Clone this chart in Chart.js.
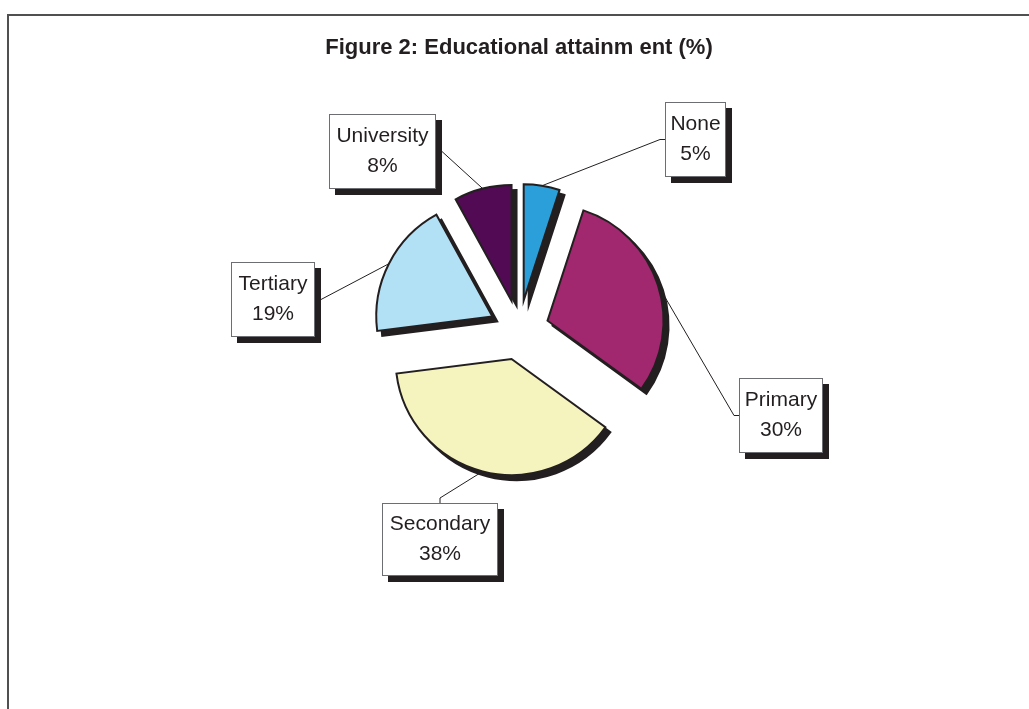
<!doctype html>
<html lang="en">
	<head>
		<title>Educational attainment</title>
		<script src="https://cdn.jsdelivr.net/npm/chart.js@4/dist/chart.umd.min.js"></script>
		<style>
			body { margin: 0; overflow: hidden; background: #fff; }
			#frame { position: absolute; left: 7px; top: 14px; width: 1100px; height: 800px;
				border-left: 2px solid #505050; border-top: 2px solid #505050; }
			#chart { position: absolute; left: 0; top: 0; }
		</style>
	</head>
	<body>
		<div id="frame"></div>
		<canvas id="chart" width="1029" height="709"></canvas>
	</body>
	<script>
		// shares of the population by highest level reached
		const categories = ['None', 'Primary', 'Secondary', 'Tertiary', 'University'];
		const shares = [5, 30, 38, 19, 8];
		const sliceColors = ['#2a9fd9', '#a1276f', '#f6f4be', '#b2e1f5', '#520a55'];

		// callout boxes: top-left corner, size, and which side the leader line joins
		const labelBoxes = [
			{ x: 665, y: 102, w: 61, h: 75, side: 'left' },
			{ x: 739, y: 378, w: 84, h: 75, side: 'left' },
			{ x: 382, y: 503, w: 116, h: 73, side: 'top' },
			{ x: 231, y: 262, w: 84, h: 75, side: 'right' },
			{ x: 329, y: 114, w: 107, h: 75, side: 'right' }
		];

		const ink = '#231f20';
		const explode = 30;
		const sliceShadow = { dx: 5, dy: 5 };
		const boxShadow = 6;

		// pull every slice out from the centre by the same distance, and lay a solid shadow under it
		const explodePlugin = {
			id: 'explode',
			afterDatasetUpdate(chart, args) {
				args.meta.data.forEach(arc => {
					const mid = (arc.startAngle + arc.endAngle) / 2;
					arc.x += Math.cos(mid) * explode;
					arc.y += Math.sin(mid) * explode;
				});
			},
			beforeDatasetDraw(chart, args) {
				const ctx = chart.ctx;
				args.meta.data.forEach(arc => {
					const opts = arc.options;
					arc.options = Object.assign({}, opts, { backgroundColor: ink, borderColor: ink });
					ctx.save();
					ctx.translate(sliceShadow.dx, sliceShadow.dy);
					arc.draw(ctx);
					ctx.restore();
					arc.options = opts;
				});
			}
		};

		// boxed callouts with leader lines
		const calloutPlugin = {
			id: 'callouts',
			afterDatasetsDraw(chart) {
				const ctx = chart.ctx;
				const arcs = chart.getDatasetMeta(0).data;
				ctx.save();
				arcs.forEach((arc, i) => {
					const b = labelBoxes[i];
					const mid = (arc.startAngle + arc.endAngle) / 2;
					const px = arc.x + Math.cos(mid) * arc.outerRadius;
					const py = arc.y + Math.sin(mid) * arc.outerRadius;
					let pts;
					if (b.side == 'left') {
						pts = [[b.x - 5, b.y + b.h / 2], [b.x, b.y + b.h / 2]];
					} else if (b.side == 'right') {
						pts = [[b.x + b.w + boxShadow, b.y + b.h / 2]];
					} else {
						pts = [[b.x + b.w / 2, b.y - 5], [b.x + b.w / 2, b.y]];
					}
					ctx.beginPath();
					ctx.moveTo(px, py);
					pts.forEach(p => ctx.lineTo(p[0], p[1]));
					ctx.strokeStyle = ink;
					ctx.lineWidth = 1;
					ctx.stroke();

					ctx.fillStyle = ink;
					ctx.fillRect(b.x + boxShadow, b.y + boxShadow, b.w, b.h);
					ctx.fillStyle = '#fff';
					ctx.fillRect(b.x, b.y, b.w, b.h);
					ctx.strokeStyle = '#6d6e71';
					ctx.strokeRect(b.x + 0.5, b.y + 0.5, b.w - 1, b.h - 1);

					ctx.fillStyle = ink;
					ctx.font = '21px "Liberation Sans", Arial, sans-serif';
					ctx.textAlign = 'center';
					ctx.textBaseline = 'middle';
					const cx = b.x + b.w / 2, cy = b.y + b.h / 2;
					ctx.fillText(categories[i], cx, cy - 15);
					ctx.fillText(shares[i] + '%', cx, cy + 15);
				});
				ctx.restore();
			}
		};

		new Chart(document.getElementById('chart'), {
			type: 'pie',
			data: {
				labels: categories,
				datasets: [{
					data: shares,
					backgroundColor: sliceColors,
					borderColor: ink,
					borderWidth: 2,
					borderJoinStyle: 'miter'
				}]
			},
			options: {
				responsive: false,
				animation: false,
				events: [],
				radius: 116,
				layout: { padding: { left: 9, right: 0, top: 0, bottom: 120.4 } },
				plugins: {
					legend: { display: false },
					tooltip: { enabled: false },
					title: {
						display: true,
						text: 'Figure 2: Educational attainm ent (%)',
						color: ink,
						font: { family: '"Liberation Sans", Arial, sans-serif', size: 22, weight: 'bold' },
						padding: { top: 35, bottom: 10 }
					}
				}
			},
			plugins: [explodePlugin, calloutPlugin]
		});
	</script>
</html>
